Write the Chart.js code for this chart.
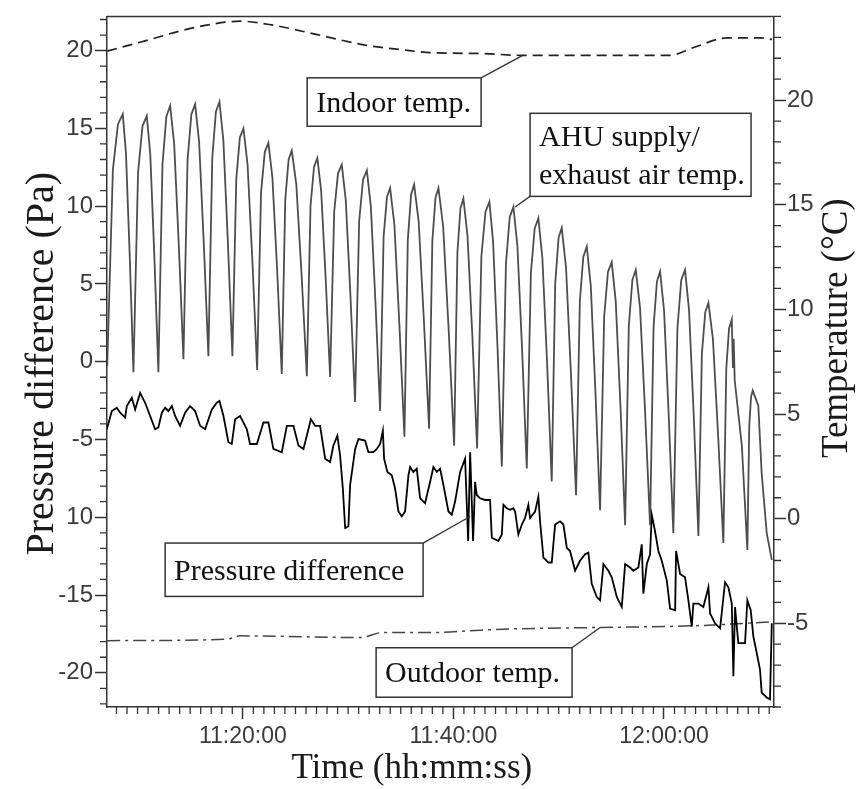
<!DOCTYPE html>
<html>
<head>
<meta charset="utf-8">
<script src="https://cdn.jsdelivr.net/npm/chart.js@4.4.1/dist/chart.umd.min.js"></script>
<style>
  html, body { margin: 0; padding: 0; background: #fff; }
</style>
</head>
<body>
<canvas id="chart" width="858" height="789"></canvas>
<script>
// time is minutes after 11:00:00
const timeTicks = [20, 40, 60];
const timeTickLabels = ['11:20:00', '11:40:00', '12:00:00'];
const pressureTicks = [-20, -15, -10, -5, 0, 5, 10, 15, 20];
const pressureTickLabels = ['-20', '-15', '10', '-5', '0', '5', '10', '15', '20'];
const tempTicks = [-5, 0, 5, 10, 15, 20];
const tempTickLabels = ['-5', '0', '5', '10', '15', '20'];

// [minute, °C]
const indoorTemp = [
    [7.12, 22.34], [11.20, 22.90], [14.33, 23.34], [16.89, 23.61], [19.74, 23.77],
    [22.88, 23.58], [27.06, 23.13], [31.80, 22.61], [34.94, 22.42], [38.07, 22.26],
    [42.25, 22.23], [46.62, 22.14], [60.58, 22.14], [62.76, 22.50], [66.00, 22.97],
    [69.13, 22.97], [70.27, 22.90]
];

const outdoorTemp = [
    [7.12, -5.83], [18.48, -5.76], [19.74, -5.60], [31.14, -5.68], [33.32, -5.44],
    [38.07, -5.44], [42.54, -5.33], [44.73, -5.28], [53.94, -5.20], [62.77, -5.12],
    [70.27, -4.93]
];

const ahuTemp = [
    [7.12, 7.29],
    [7.66, 16.68], [8.14, 18.85], [8.60, 19.33], [8.90, 17.48], [9.26, 12.55], [9.61, 7.00],
    [10.05, 16.55], [10.47, 18.76], [10.88, 19.25], [11.21, 17.41], [11.60, 12.51], [11.98, 7.00],
    [12.37, 16.93], [12.74, 19.22], [13.10, 19.73], [13.48, 17.91], [13.92, 13.07], [14.36, 7.62],
    [14.75, 17.13], [15.11, 19.32], [15.47, 19.81], [15.85, 18.00], [16.29, 13.18], [16.73, 7.76],
    [17.10, 17.24], [17.44, 19.43], [17.78, 19.92], [18.15, 18.10], [18.58, 13.23], [19.01, 7.76],
    [19.38, 16.25], [19.72, 18.21], [20.06, 18.65], [20.45, 16.92], [20.91, 12.30], [21.36, 7.10],
    [21.73, 15.57], [22.09, 17.53], [22.43, 17.96], [22.81, 16.30], [23.26, 11.88], [23.70, 6.91],
    [24.03, 15.24], [24.35, 17.16], [24.65, 17.59], [25.08, 15.97], [25.58, 11.66], [26.08, 6.81],
    [26.43, 14.94], [26.76, 16.81], [27.08, 17.23], [27.44, 15.66], [27.87, 11.48], [28.29, 6.77],
    [28.68, 14.68], [29.04, 16.50], [29.40, 16.91], [29.78, 15.21], [30.22, 10.68], [30.66, 5.58],
    [31.05, 14.21], [31.42, 16.20], [31.78, 16.64], [32.16, 14.92], [32.60, 10.32], [33.04, 5.15],
    [33.37, 13.46], [33.69, 15.37], [33.99, 15.80], [34.40, 14.02], [34.87, 9.27], [35.35, 3.92],
    [35.67, 13.31], [35.98, 15.48], [36.27, 15.96], [36.70, 14.21], [37.19, 9.55], [37.69, 4.30],
    [38.00, 13.27], [38.30, 15.34], [38.58, 15.80], [39.03, 13.95], [39.55, 9.03], [40.07, 3.49],
    [40.38, 12.70], [40.67, 14.83], [40.95, 15.30], [41.34, 13.51], [41.80, 8.73], [42.25, 3.35],
    [42.66, 12.55], [43.05, 14.67], [43.42, 15.14], [43.77, 13.24], [44.19, 8.18], [44.60, 2.49],
    [44.99, 12.17], [45.35, 14.40], [45.70, 14.90], [46.08, 13.02], [46.53, 8.02], [46.97, 2.40],
    [47.36, 11.72], [47.72, 13.87], [48.07, 14.35], [48.45, 12.46], [48.90, 7.44], [49.34, 1.78],
    [49.67, 11.23], [49.99, 13.42], [50.29, 13.90], [50.70, 11.98], [51.17, 6.87], [51.65, 1.12],
    [52.01, 10.39], [52.34, 12.52], [52.67, 13.00], [53.05, 11.11], [53.49, 6.07], [53.93, 0.40],
    [54.32, 9.65], [54.68, 11.79], [55.04, 12.26], [55.42, 10.37], [55.87, 5.35], [56.31, -0.31],
    [56.66, 9.21], [57.00, 11.40], [57.32, 11.89], [57.73, 10.06], [58.20, 5.18], [58.68, -0.31],
    [59.01, 9.14], [59.33, 11.33], [59.63, 11.81], [60.01, 9.93], [60.45, 4.93], [60.89, -0.69],
    [61.28, 9.12], [61.64, 11.39], [62.00, 11.89], [62.38, 9.98], [62.83, 4.89], [63.27, -0.83],
    [63.60, 7.86], [63.92, 9.86], [64.22, 10.31], [64.65, 8.59], [65.14, 4.00], [65.64, -1.16],
    [65.92, 7.17], [66.18, 9.09], [66.44, 9.52], [66.55, 7.20], [66.62, 8.60], [66.72, 6.60],
    [67.40, 3.46], [67.92, -1.50],
    [68.10, 4.44], [68.27, 5.82], [68.43, 6.12], [68.96, 5.40], [69.28, 2.16], [69.76, -0.69],
    [70.24, -1.97]
];

// [minute, Pa]
const pressureDiff = [
    [7.08, -4.34], [7.56, -3.17], [8.03, -2.96], [8.35, -3.28], [8.82, -3.59], [8.98, -2.85],
    [9.46, -2.32], [9.77, -3.07], [10.25, -2.01], [10.72, -2.64], [11.20, -3.49], [11.67, -4.34],
    [11.98, -4.23], [12.31, -3.28], [12.62, -2.96], [12.93, -3.17], [13.26, -2.85], [13.57, -3.49],
    [14.04, -4.12], [14.52, -3.28], [14.99, -2.85], [15.47, -3.17], [15.94, -4.12], [16.42, -4.34],
    [17.06, -3.07], [17.53, -2.64], [17.78, -2.53], [18.16, -3.49], [18.63, -5.18], [18.95, -5.29],
    [19.27, -3.70], [19.74, -3.49], [20.38, -4.34], [20.69, -5.29], [21.33, -5.29], [21.96, -3.91],
    [22.43, -3.91], [22.90, -5.61], [23.70, -5.82], [24.18, -4.12], [24.81, -4.12], [25.28, -5.39],
    [25.76, -5.61], [26.23, -4.34], [26.46, -3.70], [26.87, -4.12], [27.34, -4.12], [27.82, -6.24],
    [28.29, -6.45], [28.60, -5.39], [28.98, -4.76], [29.24, -6.03], [29.50, -8.15], [29.72, -10.69],
    [30.03, -10.58], [30.19, -7.93], [30.67, -5.61], [30.98, -4.97], [31.61, -5.07], [31.93, -5.82],
    [32.40, -5.82], [32.72, -5.61], [33.04, -5.29], [33.30, -4.44], [33.42, -6.24], [33.73, -7.09],
    [34.15, -7.30], [34.46, -8.15], [34.78, -9.63], [35.10, -9.95], [35.41, -9.63], [35.73, -7.30],
    [35.89, -6.77], [36.20, -7.09], [36.52, -6.88], [36.84, -8.78], [37.31, -9.10], [37.79, -7.72],
    [38.10, -6.77], [38.42, -7.09], [38.74, -6.88], [39.05, -7.93], [39.53, -9.63], [39.85, -9.84],
    [40.16, -8.99], [40.64, -7.09], [41.11, -6.24], [41.40, -11.53], [41.59, -5.82], [41.87, -11.53],
    [42.06, -7.72], [42.22, -8.57], [42.53, -8.78], [43.01, -8.89], [43.48, -8.89], [43.65, -11.32],
    [44.27, -11.53], [44.60, -11.11], [44.75, -9.20], [45.07, -9.42], [45.38, -9.52], [45.70, -9.42],
    [45.86, -9.63], [46.17, -11.11], [46.50, -10.47], [46.81, -10.05], [47.12, -9.20], [47.28, -10.05],
    [47.76, -9.63], [48.07, -8.68], [48.23, -10.26], [48.55, -12.59], [49.02, -12.91], [49.34, -12.91],
    [49.66, -10.47], [50.13, -10.26], [50.45, -10.47], [50.77, -11.96], [51.08, -12.17], [51.56, -13.44],
    [52.03, -12.80], [52.51, -12.38], [52.82, -12.28], [53.14, -14.28], [53.62, -15.13], [53.93, -15.34],
    [54.25, -13.01], [54.72, -13.44], [55.04, -13.86], [55.52, -15.13], [55.99, -15.77], [56.31, -13.01],
    [56.78, -13.23], [57.10, -13.44], [57.57, -13.23], [57.89, -11.74], [58.04, -14.92], [58.37, -13.01],
    [58.68, -12.38], [58.84, -9.84], [59.15, -10.90], [59.47, -12.17], [59.79, -12.80], [60.27, -14.07],
    [60.58, -15.87], [61.06, -15.98], [61.15, -12.17], [61.53, -13.65], [62.00, -13.86], [62.32, -15.34],
    [62.64, -17.04], [62.79, -15.55], [63.27, -15.55], [63.74, -15.77], [64.22, -14.50], [64.38, -16.19],
    [64.85, -16.82], [65.33, -17.14], [65.80, -14.18], [66.12, -14.50], [66.44, -15.55], [66.59, -20.22],
    [66.75, -15.77], [67.06, -18.09], [67.70, -18.09], [67.92, -15.34], [68.24, -15.98], [68.49, -17.67],
    [68.81, -18.73], [69.12, -19.79], [69.28, -21.27], [69.76, -21.59], [70.07, -21.70], [70.24, -16.82]
];

// callout boxes: box in (minute, Pa), leader runs from a box corner to a point on a series
const notes = [
    { lines: ['Indoor temp.'], x1: 26.11, x2: 42.63, y1: 18.25, y2: 15.14, corner: 'tr', to: [46.63, 22.15], axis: 'y1' },
    { lines: ['AHU supply/', 'exhaust air temp.'], x1: 47.28, x2: 68.27, y1: 15.97, y2: 10.63, corner: 'bl', to: [45.86, 14.89], axis: 'y1' },
    { lines: ['Pressure difference'], x1: 12.62, x2: 37.12, y1: -11.66, y2: -15.09, corner: 'tr', to: [41.59, -9.95], axis: 'y' },
    { lines: ['Outdoor temp.'], x1: 32.66, x2: 51.27, y1: -18.39, y2: -21.57, corner: 'tr', to: [53.93, -5.20], axis: 'y1' }
];

const axisColor = '#333';
const tickFont = { family: '"Liberation Sans", Arial, sans-serif', size: 24 };
const serif = '"Liberation Serif", "Times New Roman", serif';

function toPoints(pairs) {
    return pairs.map(p => ({ x: p[0], y: p[1] }));
}

const decor = {
    id: 'decor',
    afterDraw(chart) {
        const { ctx, chartArea: a, scales } = chart;
        const sx = scales.x, sy = scales.y, sy1 = scales.y1;
        ctx.save();

        // top frame line
        ctx.strokeStyle = axisColor;
        ctx.lineWidth = 1.5;
        ctx.beginPath();
        ctx.moveTo(a.left, a.top);
        ctx.lineTo(a.right, a.top);
        ctx.stroke();

        // minor ticks
        ctx.lineWidth = 1.3;
        ctx.beginPath();
        for (let v = Math.ceil(sx.min); v <= sx.max; v++) {
            if (v % 20 === 0) continue;
            const px = sx.getPixelForValue(v);
            ctx.moveTo(px, a.bottom);
            ctx.lineTo(px, a.bottom + 7);
        }
        for (let v = Math.ceil(sy.min); v <= sy.max; v++) {
            if (v % 5 === 0) continue;
            const py = sy.getPixelForValue(v);
            ctx.moveTo(a.left, py);
            ctx.lineTo(a.left - 7, py);
        }
        for (let v = Math.ceil(sy1.min); v <= sy1.max; v++) {
            if (v % 5 === 0) continue;
            const py = sy1.getPixelForValue(v);
            ctx.moveTo(a.right, py);
            ctx.lineTo(a.right + 7, py);
        }
        ctx.stroke();

        // axis titles
        ctx.fillStyle = '#1a1a1a';
        ctx.textAlign = 'center';
        ctx.textBaseline = 'alphabetic';
        ctx.font = '35px ' + serif;
        ctx.fillText('Time (hh:mm:ss)', a.left + (a.right - a.left) * 0.457, chart.height - 11);

        ctx.textBaseline = 'middle';
        ctx.save();
        ctx.translate(42, (a.top + a.bottom) / 2 + 2);
        ctx.rotate(-Math.PI / 2);
        ctx.font = '40px ' + serif;
        ctx.fillText('Pressure difference (Pa)', 0, 0);
        ctx.restore();

        ctx.save();
        ctx.translate(837, sy1.getPixelForValue(9.1));
        ctx.rotate(-Math.PI / 2);
        ctx.font = '37px ' + serif;
        ctx.fillText('Temperature (°C)', 0, 0);
        ctx.restore();

        // callouts
        ctx.font = '30px ' + serif;
        ctx.textAlign = 'left';
        ctx.textBaseline = 'alphabetic';
        notes.forEach(n => {
            const l = sx.getPixelForValue(n.x1), r = sx.getPixelForValue(n.x2);
            const t = sy.getPixelForValue(n.y1), b = sy.getPixelForValue(n.y2);
            const ys = n.axis === 'y1' ? sy1 : sy;
            const cx = n.corner.includes('l') ? l : r;
            const cy = n.corner.includes('t') ? t : b;
            ctx.strokeStyle = '#333';
            ctx.lineWidth = 1.3;
            ctx.beginPath();
            ctx.moveTo(cx, cy);
            ctx.lineTo(sx.getPixelForValue(n.to[0]), ys.getPixelForValue(n.to[1]));
            ctx.stroke();
            ctx.fillStyle = '#fff';
            ctx.fillRect(l, t, r - l, b - t);
            ctx.lineWidth = 1.5;
            ctx.strokeRect(l, t, r - l, b - t);
            ctx.fillStyle = '#111';
            const mid = (t + b) / 2 + 10;
            n.lines.forEach((line, i) => {
                ctx.fillText(line, l + 9, mid + (i - (n.lines.length - 1) / 2) * 38);
            });
        });
        ctx.restore();
    }
};

new Chart(document.getElementById('chart'), {
    type: 'line',
    data: {
        datasets: [
            {
                label: 'AHU supply/exhaust air temp.',
                data: toPoints(ahuTemp),
                yAxisID: 'y1',
                borderColor: '#4d4d4d',
                borderWidth: 1.8
            },
            {
                label: 'Pressure difference',
                data: toPoints(pressureDiff),
                yAxisID: 'y',
                borderColor: '#000',
                borderWidth: 1.8
            },
            {
                label: 'Indoor temp.',
                data: toPoints(indoorTemp),
                yAxisID: 'y1',
                borderColor: '#222',
                borderWidth: 1.7,
                borderDash: [10, 6],
                cubicInterpolationMode: 'monotone'
            },
            {
                label: 'Outdoor temp.',
                data: toPoints(outdoorTemp),
                yAxisID: 'y1',
                borderColor: '#444',
                borderWidth: 1.5,
                borderDash: [13, 5, 3, 5],
                cubicInterpolationMode: 'monotone'
            }
        ]
    },
    options: {
        responsive: false,
        animation: false,
        layout: { padding: { top: 9, left: 0, right: 0, bottom: 0 } },
        elements: { point: { radius: 0 }, line: { tension: 0, fill: false } },
        plugins: { legend: { display: false }, tooltip: { enabled: false } },
        scales: {
            x: {
                type: 'linear',
                position: 'bottom',
                min: 7.1,
                max: 70.45,
                afterBuildTicks: s => { s.ticks = timeTicks.map(v => ({ value: v })); },
                afterFit: s => { s.height = 82; },
                ticks: {
                    callback: v => timeTickLabels[timeTicks.indexOf(v)],
                    font: { family: tickFont.family, size: 23 },
                    color: '#3a3a3a',
                    padding: 4,
                    maxRotation: 0,
                    autoSkip: false
                },
                grid: { drawOnChartArea: false, drawTicks: true, tickLength: 12, tickColor: axisColor, tickWidth: 1.5 },
                border: { display: true, color: axisColor, width: 1.5 }
            },
            y: {
                type: 'linear',
                position: 'left',
                min: -22.2,
                max: 22.2,
                afterBuildTicks: s => { s.ticks = pressureTicks.map(v => ({ value: v })); },
                afterFit: s => { s.width = 107; },
                ticks: {
                    callback: v => pressureTickLabels[pressureTicks.indexOf(v)],
                    font: tickFont,
                    color: '#3a3a3a',
                    padding: 2,
                    autoSkip: false
                },
                grid: { drawOnChartArea: false, drawTicks: true, tickLength: 12, tickColor: axisColor, tickWidth: 1.5 },
                border: { display: true, color: axisColor, width: 1.5 }
            },
            y1: {
                type: 'linear',
                position: 'right',
                min: -9,
                max: 24,
                afterBuildTicks: s => { s.ticks = tempTicks.map(v => ({ value: v })); },
                afterFit: s => { s.width = 84; },
                ticks: {
                    callback: v => tempTickLabels[tempTicks.indexOf(v)],
                    font: tickFont,
                    color: '#3a3a3a',
                    padding: 1,
                    autoSkip: false
                },
                grid: { drawOnChartArea: false, drawTicks: true, tickLength: 12, tickColor: axisColor, tickWidth: 1.5 },
                border: { display: true, color: axisColor, width: 1.5 }
            }
        }
    },
    plugins: [decor]
});
</script>
</body>
</html>
